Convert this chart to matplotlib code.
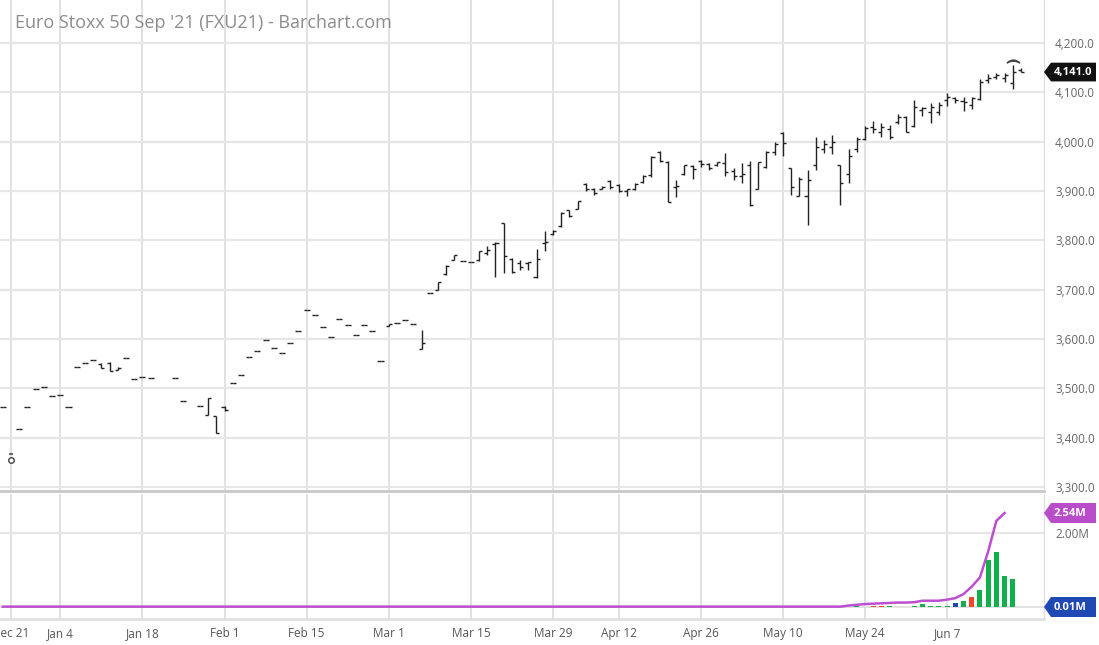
import matplotlib.pyplot as plt
import matplotlib.transforms as mtransforms
from matplotlib.patches import Polygon

plt.rcParams['font.family'] = ['Open Sans', 'DejaVu Sans']

# trading-day index, 0 = Dec 21 2020
days = [-1, 1, 2, 3, 4, 5, 6, 7, 8, 9, 10, 11, 12, 13, 14, 15, 16, 17, 20, 21, 23, 24, 25, 26] + list(range(27, 124))

opens = [3462, 3417, 3462, 3499, 3502, 3485, 3487, 3462, 3543, 3552, 3558, 3550, 3552, 3538, 3562, 3519, 3524, 3520, 3522, 3474, 3465, 3445, 3443, 3463,
         3511, 3527, 3564, 3576, 3597, 3582, 3571, 3591, 3616, 3659, 3649, 3625, 3604, 3641, 3628, 3609, 3629, 3616, 3556, 3626, 3633, 3638, 3630, 3580, 3693,
         3699, 3732, 3760, 3759, 3757, 3760, 3775, 3793, 3835, 3763, 3755, 3755, 3725, 3795, 3812, 3830, 3861, 3864, 3915, 3903, 3904, 3920, 3912, 3900,
         3905, 3918, 3932, 3978, 3959, 3908, 3934, 3950, 3960, 3955, 3952, 3957, 3940, 3930, 3952, 3904, 3948, 3978, 4018, 3946, 3890, 3890, 3952, 3985,
         3990, 3952, 3935, 3985, 4005, 4030, 4020, 4025, 4040, 4050, 4032, 4065, 4060, 4060, 4085, 4088, 4082, 4075, 4086, 4125, 4130, 4128, 4118, 4145]
highs = [3462, 3417, 3462, 3499, 3502, 3485, 3487, 3462, 3543, 3552, 3558, 3551, 3553, 3543, 3562, 3519, 3524, 3520, 3522, 3474, 3465, 3481, 3443, 3464,
         3511, 3527, 3564, 3576, 3597, 3582, 3571, 3591, 3616, 3659, 3649, 3625, 3604, 3641, 3628, 3609, 3629, 3616, 3556, 3631, 3633, 3638, 3630, 3618, 3693,
         3716, 3750, 3770, 3759, 3757, 3779, 3789, 3797, 3836, 3764, 3760, 3757, 3782, 3818, 3821, 3858, 3862, 3880, 3916, 3906, 3910, 3922, 3914, 3905,
         3916, 3932, 3970, 3980, 3961, 3922, 3953, 3953, 3963, 3957, 3959, 3976, 3947, 3956, 3961, 3959, 3980, 4000, 4020, 3946, 3929, 3943, 4010, 4003,
         4014, 3953, 3985, 4009, 4032, 4041, 4037, 4034, 4056, 4051, 4085, 4071, 4078, 4081, 4098, 4091, 4091, 4091, 4126, 4137, 4140, 4140, 4156, 4149]
lows = [3462, 3417, 3462, 3499, 3502, 3485, 3487, 3462, 3543, 3552, 3558, 3541, 3535, 3537, 3562, 3519, 3524, 3520, 3522, 3474, 3465, 3445, 3409, 3455,
        3511, 3527, 3564, 3576, 3597, 3582, 3571, 3591, 3616, 3659, 3649, 3625, 3604, 3641, 3628, 3609, 3629, 3616, 3556, 3626, 3633, 3638, 3630, 3579, 3693,
        3699, 3730, 3760, 3759, 3757, 3758, 3770, 3725, 3733, 3733, 3739, 3739, 3723, 3779, 3811, 3828, 3847, 3863, 3900, 3892, 3903, 3905, 3897, 3890,
        3901, 3916, 3929, 3959, 3877, 3888, 3932, 3924, 3949, 3943, 3951, 3930, 3922, 3917, 3870, 3903, 3946, 3973, 3970, 3891, 3890, 3831, 3943, 3976,
        3975, 3872, 3916, 3978, 4003, 4017, 4009, 4005, 4036, 4020, 4030, 4051, 4037, 4054, 4072, 4078, 4062, 4066, 4085, 4118, 4127, 4120, 4106, 4141]
closes = [3462, 3417, 3462, 3499, 3502, 3485, 3487, 3462, 3543, 3552, 3558, 3542, 3536, 3542, 3562, 3519, 3524, 3520, 3522, 3474, 3465, 3481, 3409, 3456,
          3511, 3527, 3564, 3576, 3597, 3582, 3571, 3591, 3616, 3659, 3649, 3625, 3604, 3641, 3628, 3609, 3629, 3616, 3556, 3630, 3633, 3638, 3630, 3592, 3693,
          3716, 3748, 3770, 3759, 3757, 3778, 3780, 3795, 3768, 3735, 3745, 3756, 3762, 3797, 3818, 3856, 3850, 3879, 3905, 3895, 3909, 3908, 3900, 3903,
          3914, 3930, 3968, 3961, 3878, 3910, 3952, 3945, 3955, 3946, 3958, 3938, 3930, 3935, 3872, 3958, 3978, 3996, 3997, 3908, 3925, 3922, 3990, 3995,
          4000, 3916, 3970, 4005, 4028, 4025, 4030, 4010, 4050, 4020, 4071, 4068, 4070, 4075, 4090, 4085, 4080, 4088, 4120, 4128, 4135, 4135, 4142, 4141]

# volume (millions)
vol_days = [103, 105, 106, 107, 108, 110, 111, 112, 113, 114, 115, 116, 117, 118, 119, 120, 121, 122, 123]
volume = [0.02, 0.02, 0.02, 0.02, 0.01, 0.02, 0.07, 0.03, 0.03, 0.03, 0.11, 0.17, 0.26, 0.45, 1.26, 1.49, 0.85, 0.75, 0.01]
vol_dir = ['up', 'down', 'down', 'up', 'up', 'up', 'up', 'up', 'up', 'up', 'flat', 'up', 'down', 'up', 'up', 'up', 'up', 'up', 'flat']

# open interest (millions)
oi_days = [-1, 101, 102, 103, 104, 105, 106, 107, 108, 109, 110, 111, 112, 113, 114, 115, 116, 117, 118, 119, 120, 121]
open_int = [0.01, 0.01, 0.04, 0.06, 0.08, 0.09, 0.10, 0.11, 0.12, 0.12, 0.13, 0.17, 0.17, 0.17, 0.20, 0.24, 0.35, 0.55, 0.80, 1.50, 2.33, 2.54]

tick_days = [0, 6, 16, 26, 36, 46, 56, 66, 74, 84, 94, 104, 114]
tick_labels = ['Dec 21', 'Jan 4', 'Jan 18', 'Feb 1', 'Feb 15', 'Mar 1', 'Mar 15', 'Mar 29',
               'Apr 12', 'Apr 26', 'May 10', 'May 24', 'Jun 7']
price_ticks = [3300, 3400, 3500, 3600, 3700, 3800, 3900, 4000, 4100, 4200]

W, H = 1099, 645
fig = plt.figure(figsize=(W / 100, H / 100), dpi=100)
ax = fig.add_axes([0, 1 - 491 / H, 1044 / W, 491 / H])
axv = fig.add_axes([0, 1 - 619 / H, 1044 / W, 125 / H])

xlim = (-1.34, 125.8)
grid_v = '#dcdcdc'
grid_h = '#e6e6e6'
label_col = '#666666'

# ---- price panel ----
ax.set_xlim(*xlim)
ax.set_ylim(3292, 4287)
for d in tick_days:
    ax.axvline(d, color=grid_v, lw=1.2, zorder=0)
for p in price_ticks:
    ax.axhline(p, color=grid_h, lw=1.6, zorder=0)

bar_col = '#222222'
tw = 0.37
ax.vlines(days, lows, highs, color=bar_col, lw=1.0, zorder=3)
ax.hlines(opens, [d - tw for d in days], days, color=bar_col, lw=1.0, zorder=3)
ax.hlines(closes, days, [d + tw for d in days], color=bar_col, lw=1.0, zorder=3)

# event markers
ax.plot([0], [3355], marker='o', ms=4, mfc='white', mec='#444444', mew=1, zorder=4)
ax.hlines([3366], [-0.3], [0.3], color='#444444', lw=1.1, zorder=4)
ax.plot([122], [4164], marker=r'$\frown$', ms=9, color='#444444', zorder=4)

ax.set_yticks(price_ticks)
ax.set_yticklabels([f'{p:,.1f}' for p in price_ticks])
ax.yaxis.tick_right()
ax.tick_params(axis='y', length=0, pad=8, labelsize=8.5, labelcolor=label_col)
ax.set_xticks([])
for s in ['left', 'top']:
    ax.spines[s].set_visible(False)
ax.spines['right'].set_color('#dddddd')
ax.spines['bottom'].set_color('#c8c8c8')
ax.spines['bottom'].set_linewidth(2)

ax.text(15 / 1044, 1 - 23 / 491, "Euro Stoxx 50 Sep '21 (FXU21) - Barchart.com",
        transform=ax.transAxes, fontsize=13, color='#8c8c8c', va='center', ha='left')


def tag(axis, y, text, color, hh):
    tr = mtransforms.blended_transform_factory(axis.transAxes, axis.transData)
    x0 = 1.0
    x1 = 1 + 7 / 1044
    x2 = 1096 / 1044
    poly = Polygon([(x0, y), (x1, y + hh), (x2, y + hh), (x2, y - hh), (x1, y - hh)],
                   closed=True, transform=tr, facecolor=color, edgecolor='none',
                   clip_on=False, zorder=5)
    axis.add_patch(poly)
    axis.text(1054 / 1044, y, text, transform=tr, color='white', fontsize=8,
              fontweight='bold', va='center', ha='left', clip_on=False, zorder=6)


tag(ax, closes[-1], f'{closes[-1]:,.1f}', '#111111', 19)

# ---- volume panel ----
axv.set_xlim(*xlim)
axv.set_ylim(-0.324, 3.054)
for d in tick_days:
    axv.axvline(d, color=grid_v, lw=1.2, zorder=0)
axv.axhline(2.0, color=grid_h, lw=1.6, zorder=0)
axv.axhline(0, color='#dddddd', lw=1.2, zorder=0)

dir_colors = {'up': '#12b04c', 'down': '#f0492a', 'flat': '#2049b0'}
axv.bar(vol_days, volume, width=0.62, color=[dir_colors[c] for c in vol_dir], zorder=2)
axv.plot(oi_days, open_int, color='#bb4fd0', lw=1.8, zorder=3)

axv.set_yticks([2.0])
axv.set_yticklabels(['2.00M'])
axv.yaxis.tick_right()
axv.tick_params(axis='y', length=0, pad=8, labelsize=8.5, labelcolor=label_col)
axv.set_xticks(tick_days)
axv.set_xticklabels(tick_labels)
axv.tick_params(axis='x', length=0, pad=6, labelsize=8.5, labelcolor='#555555')
for s in ['left', 'top']:
    axv.spines[s].set_visible(False)
axv.spines['right'].set_color('#dddddd')
axv.spines['bottom'].set_color('#e0e0e0')
axv.spines['bottom'].set_linewidth(2)

tag(axv, open_int[-1], f'{open_int[-1]:.2f}M', '#b94cc9', 0.27)
tag(axv, 0.0, '0.01M', '#1f48b4', 0.27)

fig.savefig('out.png', dpi=100)
